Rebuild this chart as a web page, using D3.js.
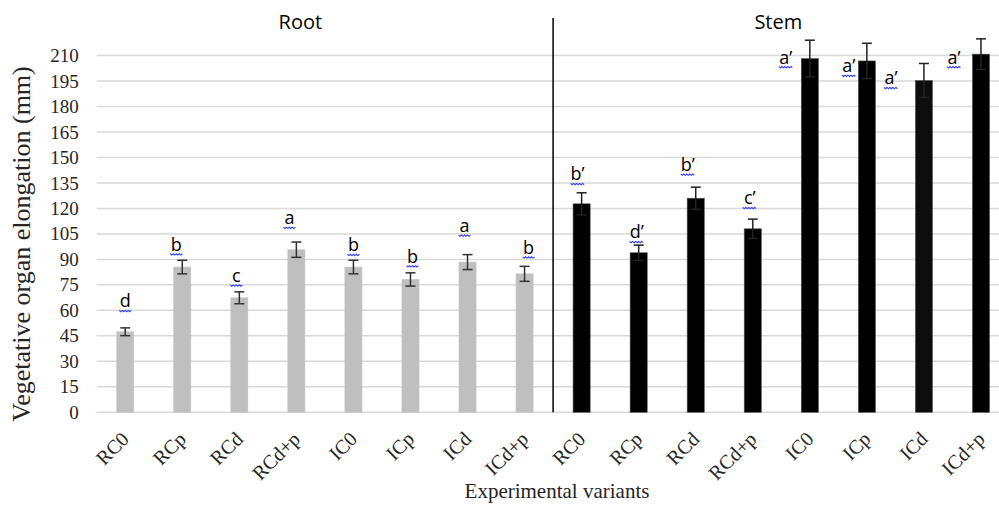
<!DOCTYPE html>
<html>
<head>
<meta charset="utf-8">
<script src="https://cdn.jsdelivr.net/npm/d3@7"></script>
<style>
  body { margin: 0; background: #fff; }
  svg { display: block; }
</style>
</head>
<body>
<div id="chart"></div>
<script>
// data (mm)
const organs = ["Root", "Stem"];
const variants = ["RC0", "RCp", "RCd", "RCd+p", "IC0", "ICp", "ICd", "ICd+p"];
const rootMeans = [47.4, 85.5, 67.4, 95.7, 85.5, 78.2, 88.4, 81.5];
const rootErrors = [2.3, 4.0, 3.5, 4.5, 4.0, 3.9, 4.4, 4.4];
const stemMeans = [122.7, 93.9, 126.0, 108.0, 208.2, 206.8, 195.3, 210.8];
const stemErrors = [6.5, 4.5, 6.5, 5.7, 10.8, 10.4, 10.0, 9.0];
const rootLetters = ["d", "b", "c", "a", "b", "b", "a", "b"];
const stemLetters = ["b’", "d’", "b’", "c’", "a’", "a’", "a’", "a’"];
// level of the letter's underline, mm
const rootLetterAt = [60, 93.3, 75, 109, 93, 86.3, 104.3, 91.5];
const stemLetterAt = [134.7, 100.6, 140.2, 120.6, 203.5, 198.4, 191.2, 203.5];
// letter shift from bar centre, px
const rootLetterDx = [0, -6, -3, -7, 0, 2, -3, 4];
const stemLetterDx = [-4, -2, -8, -3, -24, -18, -33, -27];
const yTicks = [0, 15, 30, 45, 60, 75, 90, 105, 120, 135, 150, 165, 180, 195, 210];

const width = 999;
const height = 505;
const margin = { top: 55.5, left: 96.7, bottom: 412.3 };

const rows = [];
organs.forEach((organ, g) => {
    const means = g === 0 ? rootMeans : stemMeans;
    const errs = g === 0 ? rootErrors : stemErrors;
    const letters = g === 0 ? rootLetters : stemLetters;
    const at = g === 0 ? rootLetterAt : stemLetterAt;
    const dx = g === 0 ? rootLetterDx : stemLetterDx;
    variants.forEach((v, i) => {
        rows.push({ key: organ + i, organ, variant: v, mean: means[i], err: errs[i],
            letter: letters[i], at: at[i], dx: dx[i] });
    });
});

const svg = d3.select("#chart")
    .append("svg")
    .attr("width", width)
    .attr("height", height);

// plot runs a bit past the right edge, as in the original
const x = d3.scaleBand()
    .domain(rows.map(d => d.key))
    .range([margin.left, margin.left + 16 * 57.05])
    .paddingInner(0.7)
    .paddingOuter(0.35);

const y = d3.scaleLinear()
    .domain([0, 210])
    .range([margin.bottom, margin.top]);

const cx = d => x(d.key) + x.bandwidth() / 2;

// gridlines
svg.append("g")
    .selectAll("line")
    .data(yTicks)
    .join("line")
    .attr("x1", margin.left)
    .attr("x2", width)
    .attr("y1", d => y(d))
    .attr("y2", d => y(d))
    .attr("stroke", "#d9d9d9")
    .attr("stroke-width", 1.5);

// y axis
const yAxis = svg.append("g")
    .attr("transform", `translate(${margin.left},0)`)
    .call(d3.axisLeft(y).tickValues(yTicks).tickSize(0).tickPadding(18));
yAxis.select(".domain").remove();
yAxis.selectAll("text")
    .attr("font-family", "Liberation Serif, serif")
    .attr("font-size", 19)
    .attr("fill", "#262626");

// x tick labels, slanted 45 degrees (css transform)
svg.append("g")
    .selectAll("text")
    .data(rows)
    .join("text")
    .attr("x", 0)
    .attr("y", 0)
    .style("transform", d => `translate(${(cx(d) + 5).toFixed(1)}px,${margin.bottom + 28}px) rotate(-45deg)`)
    .attr("text-anchor", "end")
    .attr("font-family", "Liberation Serif, serif")
    .attr("font-size", 20)
    .attr("fill", "#262626")
    .text(d => d.variant);

// bars
svg.selectAll(".bar")
    .data(rows)
    .join("rect")
    .attr("class", "bar")
    .attr("x", d => x(d.key))
    .attr("y", d => y(d.mean))
    .attr("width", x.bandwidth())
    .attr("height", d => y(0) - y(d.mean))
    .attr("fill", d => d.organ === "Root" ? "#bfbfbf" : (d.variant === "ICd" ? "#0d0d0d" : "#000"))
    .attr("stroke", d => d.organ === "Root" ? "#c8c8c8" : "#555")
    .attr("stroke-width", 0.6);

// error bars
const eb = svg.append("g")
    .selectAll("g")
    .data(rows)
    .join("g")
    .attr("stroke", d => d.organ === "Root" ? "#333" : "#222")
    .attr("stroke-width", 1.5);
eb.append("line")
    .attr("x1", cx).attr("x2", cx)
    .attr("y1", d => y(d.mean - d.err))
    .attr("y2", d => y(d.mean + d.err));
eb.append("line")
    .attr("x1", d => cx(d) - 5).attr("x2", d => cx(d) + 5)
    .attr("y1", d => y(d.mean + d.err))
    .attr("y2", d => y(d.mean + d.err));
eb.append("line")
    .attr("x1", d => cx(d) - 5).attr("x2", d => cx(d) + 5)
    .attr("y1", d => y(d.mean - d.err))
    .attr("y2", d => y(d.mean - d.err));

// significance letters with the squiggly underline
const lab = svg.append("g")
    .selectAll("g")
    .data(rows)
    .join("g")
    .attr("transform", d => `translate(${cx(d) + d.dx},${y(d.at)})`);
lab.append("text")
    .attr("y", -3)
    .attr("text-anchor", "middle")
    .attr("font-family", "Open Sans, sans-serif")
    .attr("font-size", 18)
    .attr("fill", "#000")
    .text(d => d.letter);
lab.append("path")
    .attr("fill", "none")
    .attr("stroke", "#2b3cf0")
    .attr("stroke-width", 1.1)
    .attr("d", d => {
        const w = d.letter.length > 1 ? 14 : 12;
        let p = `M${-w / 2},0`;
        for (let k = 1; k <= w / 1.5; k++) p += `L${-w / 2 + k * 1.5},${k % 2 ? 1.3 : 0}`;
        return p;
    });

// group divider
const divX = (x(rows[7].key) + x.bandwidth() + x(rows[8].key)) / 2;
svg.append("line")
    .attr("x1", divX).attr("x2", divX)
    .attr("y1", 18).attr("y2", y(0))
    .attr("stroke", "#000")
    .attr("stroke-width", 1.5);

// group titles
svg.append("text")
    .attr("x", cx(rows[3]) + 4)
    .attr("y", 29)
    .attr("text-anchor", "middle")
    .attr("font-family", "Open Sans, sans-serif")
    .attr("font-size", 20)
    .text(organs[0]);
svg.append("text")
    .attr("x", (cx(rows[11]) + cx(rows[12])) / 2 - 3)
    .attr("y", 29)
    .attr("text-anchor", "middle")
    .attr("font-family", "Open Sans, sans-serif")
    .attr("font-size", 20)
    .text(organs[1]);

// axis titles
svg.append("text")
    .attr("transform", "translate(30,244) rotate(-90)")
    .attr("text-anchor", "middle")
    .attr("font-family", "Liberation Serif, serif")
    .attr("font-size", 26)
    .attr("fill", "#262626")
    .text("Vegetative organ elongation (mm)");
svg.append("text")
    .attr("x", 557)
    .attr("y", 498)
    .attr("text-anchor", "middle")
    .attr("font-family", "Liberation Serif, serif")
    .attr("font-size", 21)
    .attr("fill", "#262626")
    .text("Experimental variants");
</script>
</body>
</html>
